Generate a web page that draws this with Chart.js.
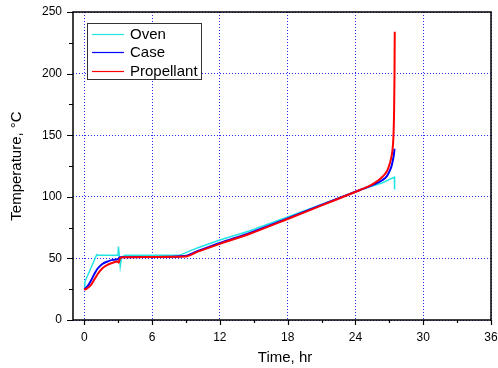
<!DOCTYPE html>
<html><head><meta charset="utf-8">
<script src="https://cdn.jsdelivr.net/npm/chart.js@4/dist/chart.umd.min.js"></script>
<style>html,body{margin:0;padding:0;background:#fff}#wrap{width:498px;height:368px}</style>
</head><body><div id="wrap"><canvas id="c" width="498" height="368"></canvas></div>
<script>
const seriesNames = ["Oven", "Case", "Propellant"];
const seriesColors = ["#22e4e4", "#0000ff", "#ff0000"];

const ovenTime = [0, 0.05, 1.1, 1.25, 2.98, 3.02, 3.1, 3.18, 3.3, 3.6, 8.4, 10, 12, 14.6, 18, 21, 24.4, 26.4, 27.45, 27.47];
const ovenTemp = [26, 31, 53, 52.5, 52.5, 59.5, 52, 43.5, 51, 52.5, 52.5, 58.5, 65, 72.2, 83.6, 93.8, 105.5, 111.4, 116, 106];

const caseTime = [0, 0.3, 0.6, 0.9, 1.2, 1.6, 2.0, 2.5, 3.0, 3.15, 3.4, 6, 8.9, 10, 12, 14.6, 18, 21, 24.4, 25.5, 26.4, 26.8, 27.0, 27.2, 27.3, 27.4, 27.46];
const caseTemp = [25, 27.5, 32, 37.5, 42, 45.5, 47.3, 48.8, 49.5, 51, 51, 51.2, 52, 55.8, 62.5, 70.5, 82.5, 93.5, 105.5, 109.5, 113.6, 117, 120.4, 125, 129, 134, 139];

const propTime = [0, 0.3, 0.6, 0.9, 1.2, 1.6, 2.0, 2.5, 2.95, 3.05, 3.15, 3.4, 6, 8.9, 10, 12, 14.6, 18, 21, 24.4, 25.5, 26.4, 26.8, 27.0, 27.15, 27.28, 27.36, 27.42, 27.46, 27.48];
const propTemp = [24.5, 26, 28.5, 33, 37.5, 42, 44.6, 46.5, 47.5, 46.5, 50, 51, 51.2, 51.5, 55.3, 61.8, 69.8, 82, 93, 105.5, 110, 116.3, 121, 125.8, 131, 138, 148, 168, 200, 234];

const xTicks = [0, 6, 12, 18, 24, 30, 36];
const yTicks = [0, 50, 100, 150, 200, 250];

function pts(t, v) { return t.map((x, i) => ({ x: x, y: v[i] })); }

const FONT = "'Liberation Sans', Arial, sans-serif";

const framePlugin = {
  id: 'frame',
  afterDatasetsDraw(chart) {
    const ctx = chart.ctx, a = chart.chartArea;
    const xs = chart.scales.x, ys = chart.scales.y;
    ctx.save();
    ctx.strokeStyle = '#000';
    ctx.lineWidth = 1.5;
    ctx.strokeRect(a.left, a.top, a.right - a.left, a.bottom - a.top);
    ctx.lineWidth = 1.2;
    ctx.beginPath();
    for (let v = 0; v <= 36; v += 3) {
      const px = Math.round(xs.getPixelForValue(v)) + 0.5;
      const len = (v % 6 === 0) ? 5 : 3;
      ctx.moveTo(px, a.bottom); ctx.lineTo(px, a.bottom + len);
    }
    for (let v = 0; v <= 250; v += 25) {
      const py = Math.round(ys.getPixelForValue(v)) + 0.5;
      const len = (v % 50 === 0) ? 6 : 4;
      ctx.moveTo(a.left, py); ctx.lineTo(a.left - len, py);
    }
    ctx.stroke();

    // axis titles
    ctx.fillStyle = '#000';
    ctx.font = '15px ' + FONT;
    ctx.textAlign = 'center';
    ctx.textBaseline = 'middle';
    ctx.fillText('Time, hr', (a.left + a.right) / 2 + 3, 358);
    ctx.save();
    ctx.translate(17, (a.top + a.bottom) / 2);
    ctx.rotate(-Math.PI / 2);
    ctx.fillText('Temperature, \u00B0C', 0, 0);
    ctx.restore();

    // legend
    const lx = 87, ly = 23, lw = 114, lh = 56;
    ctx.fillStyle = '#fff';
    ctx.fillRect(lx, ly, lw, lh);
    ctx.strokeStyle = '#333';
    ctx.lineWidth = 1;
    ctx.strokeRect(lx + 0.5, ly + 0.5, lw, lh);
    const rows = [34, 52, 70.5];
    ctx.font = '15px ' + FONT;
    ctx.textAlign = 'left';
    ctx.textBaseline = 'middle';
    seriesNames.forEach((n, i) => {
      ctx.strokeStyle = seriesColors[i];
      ctx.lineWidth = 1.2;
      ctx.beginPath();
      ctx.moveTo(92, Math.round(rows[i]) + 0.5);
      ctx.lineTo(124, Math.round(rows[i]) + 0.5);
      ctx.stroke();
      ctx.fillStyle = '#000';
      ctx.fillText(n, 130, rows[i] + 1);
    });
    ctx.restore();
  }
};

new Chart(document.getElementById('c'), {
  type: 'scatter',
  data: {
    datasets: [
      { label: seriesNames[0], data: pts(ovenTime, ovenTemp), borderColor: seriesColors[0], borderWidth: 1.5, showLine: true, pointRadius: 0, tension: 0, order: 2 },
      { label: seriesNames[1], data: pts(caseTime, caseTemp), borderColor: seriesColors[1], borderWidth: 2, showLine: true, pointRadius: 0, cubicInterpolationMode: 'monotone', order: 1 },
      { label: seriesNames[2], data: pts(propTime, propTemp), borderColor: seriesColors[2], borderWidth: 2, showLine: true, pointRadius: 0, cubicInterpolationMode: 'monotone', order: 0 }
    ]
  },
  options: {
    responsive: false,
    animation: false,
    events: [],
    layout: { padding: { left: 0, right: 7, top: 12, bottom: 0 } },
    plugins: { legend: { display: false }, tooltip: { enabled: false } },
    scales: {
      x: {
        type: 'linear', min: -1, max: 36,
        afterBuildTicks(s) { s.ticks = xTicks.map(v => ({ value: v })); },
        afterFit(s) { s.height = 48; },
        ticks: { color: '#000', font: { family: FONT, size: 12 }, padding: 0, maxRotation: 0, autoSkip: false },
        grid: { color: '#2a2aff', lineWidth: 1, drawTicks: true, tickLength: 10, tickColor: 'rgba(0,0,0,0)' },
        border: { display: false, dash: [1, 2] }
      },
      y: {
        type: 'linear', min: 0, max: 250,
        afterBuildTicks(s) { s.ticks = yTicks.map(v => ({ value: v })); },
        afterFit(s) { s.width = 73; },
        ticks: { color: '#000', font: { family: FONT, size: 12 }, padding: 0 },
        grid: { color: '#2a2aff', lineWidth: 1, drawTicks: true, tickLength: 11, tickColor: 'rgba(0,0,0,0)' },
        border: { display: false, dash: [1, 2] }
      }
    }
  },
  plugins: [framePlugin]
});
</script>
</body></html>
